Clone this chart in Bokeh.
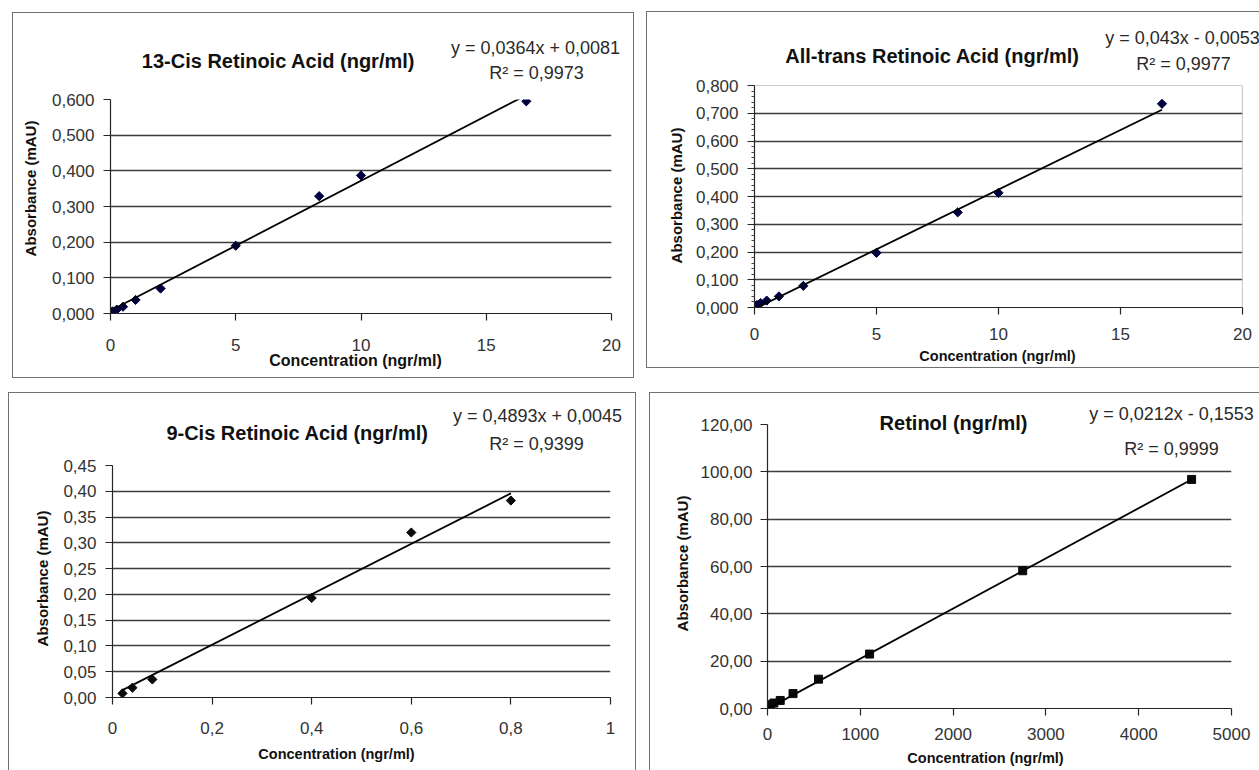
import math
from bokeh.plotting import figure
from bokeh.models import Range1d, FixedTicker, Label, Span
from bokeh.embed import file_html
from bokeh.resources import INLINE

FONT = "Liberation Sans"
BOX = "#707070"
PAGE_W, PAGE_H = 1259, 770

# ---------------- data ----------------
# 13-Cis Retinoic Acid
cis13_x = [0.05, 0.1, 0.25, 0.5, 1.0, 2.0, 5.0, 8.33, 10.0, 16.6]
cis13_y = [0.004, 0.006, 0.011, 0.019, 0.038, 0.070, 0.190, 0.329, 0.387, 0.595]
cis13_slope, cis13_intercept = 0.0364, 0.0081
cis13_title = "13-Cis Retinoic Acid (ngr/ml)"
cis13_eq = "y = 0,0364x + 0,0081"
cis13_r2 = "R\u00b2 = 0,9973"
cis13_xticks = [0, 5, 10, 15, 20]
cis13_xlabels = ["0", "5", "10", "15", "20"]
cis13_yticks = [0, 0.1, 0.2, 0.3, 0.4, 0.5, 0.6]
cis13_ylabels = ["0,000", "0,100", "0,200", "0,300", "0,400", "0,500", "0,600"]
cis13_ygrid = [0.1, 0.2, 0.3, 0.4, 0.5, 0.6]

# All-trans Retinoic Acid
atra_x = [0.05, 0.1, 0.25, 0.5, 1.0, 2.0, 5.0, 8.33, 10.0, 16.7]
atra_y = [0.006, 0.009, 0.016, 0.025, 0.040, 0.078, 0.197, 0.343, 0.413, 0.734]
atra_slope, atra_intercept = 0.043, -0.0053
atra_title = "All-trans Retinoic Acid (ngr/ml)"
atra_eq = "y = 0,043x - 0,0053"
atra_r2 = "R\u00b2 = 0,9977"
atra_xticks = [0, 5, 10, 15, 20]
atra_xlabels = ["0", "5", "10", "15", "20"]
atra_yticks = [0, 0.1, 0.2, 0.3, 0.4, 0.5, 0.6, 0.7, 0.8]
atra_ylabels = ["0,000", "0,100", "0,200", "0,300", "0,400", "0,500", "0,600", "0,700", "0,800"]
atra_yminor = [0.02, 0.04, 0.06, 0.08, 0.12, 0.14, 0.16, 0.18, 0.22, 0.24, 0.26, 0.28,
               0.32, 0.34, 0.36, 0.38, 0.42, 0.44, 0.46, 0.48, 0.52, 0.54, 0.56, 0.58,
               0.62, 0.64, 0.66, 0.68, 0.72, 0.74, 0.76, 0.78]
atra_ygrid = [0.1, 0.2, 0.3, 0.4, 0.5, 0.6, 0.7]

# 9-Cis Retinoic Acid
cis9_x = [0.02, 0.04, 0.08, 0.4, 0.6, 0.8]
cis9_y = [0.008, 0.019, 0.035, 0.193, 0.320, 0.382]
cis9_slope, cis9_intercept = 0.4893, 0.0045
cis9_title = "9-Cis Retinoic Acid (ngr/ml)"
cis9_eq = "y = 0,4893x + 0,0045"
cis9_r2 = "R\u00b2 = 0,9399"
cis9_xticks = [0, 0.2, 0.4, 0.6, 0.8, 1.0]
cis9_xlabels = ["0", "0,2", "0,4", "0,6", "0,8", "1"]
cis9_yticks = [0, 0.05, 0.1, 0.15, 0.2, 0.25, 0.3, 0.35, 0.4, 0.45]
cis9_ylabels = ["0,00", "0,05", "0,10", "0,15", "0,20", "0,25", "0,30", "0,35", "0,40", "0,45"]
cis9_ygrid = [0.05, 0.1, 0.15, 0.2, 0.25, 0.3, 0.35, 0.4]

# Retinol
ret_x = [9, 17, 34, 69, 137, 275, 550, 1100, 2750, 4570]
ret_y = [0.6, 1.0, 1.6, 2.3, 3.4, 6.3, 12.4, 23.0, 58.2, 96.8]
ret_slope, ret_intercept = 0.0212, -0.1553
ret_title = "Retinol (ngr/ml)"
ret_eq = "y = 0,0212x - 0,1553"
ret_r2 = "R\u00b2 = 0,9999"
ret_xticks = [0, 1000, 2000, 3000, 4000, 5000]
ret_xlabels = ["0", "1000", "2000", "3000", "4000", "5000"]
ret_yticks = [0, 20, 40, 60, 80, 100, 120]
ret_ylabels = ["0,00", "20,00", "40,00", "60,00", "80,00", "100,00", "120,00"]
ret_ygrid = [20, 40, 60, 80, 100]

x_axis_title = "Concentration (ngr/ml)"
y_axis_title = "Absorbance (mAU)"


def panel(xs, ys, slope, icpt, xr, yr, xticks, xlabels, yticks, ylabels, ygrid,
          g, marker, msize, mcolor, mangle=0.0, yminor=None):
    p = figure(width=g["w"], height=g["h"], x_range=Range1d(*xr), y_range=Range1d(*yr),
               output_backend="svg", toolbar_location=None,
               min_border_left=g["bl"], min_border_right=g["br"],
               min_border_top=g["bt"], min_border_bottom=g["bb"],
               border_fill_color=None, background_fill_color=None,
               outline_line_color=None,
               styles={"position": "absolute", "left": "%dpx" % g["pos"][0],
                       "top": "%dpx" % g["pos"][1], "box-shadow": g["shadow"]})
    for ax, ticks, labels, so in ((p.xaxis[0], xticks, xlabels, g["xso"]),
                                  (p.yaxis[0], yticks, ylabels, g["yso"])):
        ax.ticker = FixedTicker(ticks=ticks, minor_ticks=[])
        ax.major_label_overrides = dict(zip(ticks, labels))
        ax.axis_line_color = "#262626"
        ax.axis_line_width = 1.2
        ax.major_tick_line_color = "#262626"
        ax.major_tick_line_width = 1.2
        ax.major_tick_in = 0
        ax.major_tick_out = 7
        ax.minor_tick_line_color = None
        ax.major_label_standoff = so
        ax.major_label_text_font = FONT
        ax.major_label_text_font_size = "17px"
        ax.major_label_text_color = "#333333"
    if yminor is not None:
        p.yaxis[0].ticker = FixedTicker(ticks=yticks, minor_ticks=yminor)
        p.yaxis[0].minor_tick_line_color = "#444444"
        p.yaxis[0].minor_tick_in = 0
        p.yaxis[0].minor_tick_out = 3
    p.xgrid.visible = False
    p.ygrid[0].ticker = FixedTicker(ticks=ygrid)
    p.ygrid.grid_line_color = "#3c3c3c"
    p.ygrid.grid_line_width = 1.3

    p.scatter(xs, ys, marker=marker, size=msize, angle=mangle,
              fill_color=mcolor, line_color=mcolor)
    x0, x1 = min(xs), max(xs)
    p.line([x0, x1], [slope * x0 + icpt, slope * x1 + icpt], line_color="black", line_width=1.8)
    return p


g1 = dict(pos=(12, 12), w=622, h=366, bl=98, br=23, bt=87, bb=65,
          shadow="inset 0 0 0 1px " + BOX, xso=18, yso=9)
g2 = dict(pos=(646, 11), w=613, h=357, bl=108, br=17, bt=74, bb=61,
          shadow="inset 1px 0 0 %s, inset 0 1px 0 %s, inset 0 -1px 0 %s" % (BOX, BOX, BOX),
          xso=13, yso=9)
g3 = dict(pos=(8, 392), w=628, h=378, bl=104, br=26, bt=73, bb=73,
          shadow="inset 1px 0 0 %s, inset 0 1px 0 %s, inset -1px 0 0 %s" % (BOX, BOX, BOX),
          xso=17, yso=9)
g4 = dict(pos=(649, 392), w=610, h=378, bl=118, br=28, bt=32, bb=62,
          shadow="inset 1px 0 0 %s, inset 0 1px 0 %s" % (BOX, BOX),
          xso=12, yso=8)

DIAMOND = math.pi / 4
p1 = panel(cis13_x, cis13_y, cis13_slope, cis13_intercept, (0, 20), (0, 0.6),
           cis13_xticks, cis13_xlabels, cis13_yticks, cis13_ylabels, cis13_ygrid,
           g1, "square", 6.5, "#000040", mangle=DIAMOND)
p2 = panel(atra_x, atra_y, atra_slope, atra_intercept, (0, 20), (0, 0.8),
           atra_xticks, atra_xlabels, atra_yticks, atra_ylabels, atra_ygrid,
           g2, "square", 6.5, "#000040", mangle=DIAMOND, yminor=atra_yminor)
p2.add_layout(Span(location=20, dimension="height", line_color="#9a9a9a", line_width=1.2))
p2.add_layout(Span(location=0.8, dimension="width", line_color="#9a9a9a", line_width=1.2))
p3 = panel(cis9_x, cis9_y, cis9_slope, cis9_intercept, (0, 1), (0, 0.45),
           cis9_xticks, cis9_xlabels, cis9_yticks, cis9_ylabels, cis9_ygrid,
           g3, "square", 6.5, "#0a0a0a", mangle=DIAMOND)
p4 = panel(ret_x, ret_y, ret_slope, ret_intercept, (0, 5000), (0, 120),
           ret_xticks, ret_xlabels, ret_yticks, ret_ylabels, ret_ygrid,
           g4, "square", 8, "#0a0a0a")

# ---------- text layer (titles, equations, axis titles) in page pixel coordinates ----------
T = figure(width=PAGE_W, height=PAGE_H, x_range=Range1d(0, PAGE_W), y_range=Range1d(PAGE_H, 0),
           output_backend="svg", toolbar_location=None,
           x_axis_location=None, y_axis_location=None, min_border=0,
           border_fill_color=None, background_fill_color=None, outline_line_color=None,
           styles={"position": "absolute", "left": "0px", "top": "0px"})
T.grid.grid_line_color = None


def lab(x, y, text, size, bold=False, color="#111111", angle=0.0):
    T.add_layout(Label(x=x, y=y, text=text, text_font=FONT, text_font_size=size,
                       text_font_style="bold" if bold else "normal",
                       text_color=color, text_align="center", text_baseline="middle",
                       angle=angle, angle_units="rad"))


texts = [
    # (title, eq, r2, title_pos, eq_pos, r2_pos, xtitle_pos, xtitle_size, ytitle_pos)
    (cis13_title, cis13_eq, cis13_r2, (278, 60), (535, 47), (536, 72), (355, 360), "16px", (30, 188)),
    (atra_title, atra_eq, atra_r2, (932, 55), (1182, 37), (1183, 63), (997, 355), "14.5px", (676, 195)),
    (cis9_title, cis9_eq, cis9_r2, (297, 432), (537, 415), (536, 443), (336, 753), "14.5px", (42, 578)),
    (ret_title, ret_eq, ret_r2, (953, 422), (1171, 413), (1171, 448), (985, 757), "14.5px", (682, 563)),
]
for tt, eq, r2, tp, ep, rp, xp, xs_, yp in texts:
    lab(tp[0], tp[1], tt, "20px", bold=True)
    lab(ep[0], ep[1], eq, "18px", color="#2a2a2a")
    lab(rp[0], rp[1], r2, "18px", color="#2a2a2a")
    lab(xp[0], xp[1], x_axis_title, xs_, bold=True)
    lab(yp[0], yp[1], y_axis_title, "15px", bold=True, angle=math.pi / 2)

open("out.html", "w").write(file_html([p1, p2, p3, p4, T], INLINE))
